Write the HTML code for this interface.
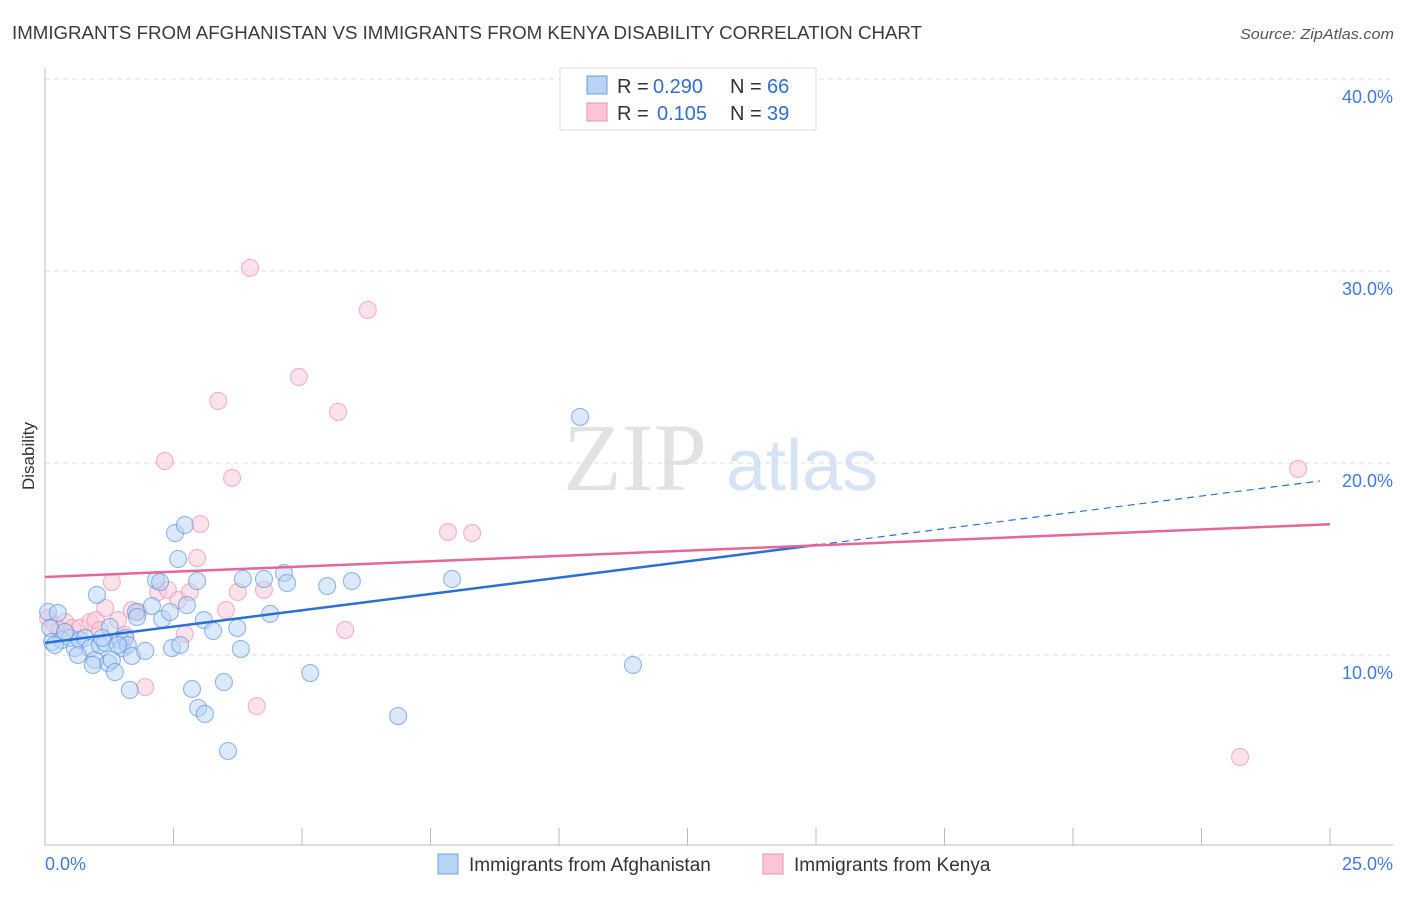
<!DOCTYPE html>
<html><head><meta charset="utf-8"><style>
body{margin:0;background:#fff;font-family:"Liberation Sans",sans-serif}
</style></head><body>
<svg id="c" width="1406" height="892" xmlns="http://www.w3.org/2000/svg" style="font-family:'Liberation Sans',sans-serif">
<text x="12" y="39" font-size="18" fill="#3a3a3a" textLength="910" lengthAdjust="spacingAndGlyphs">IMMIGRANTS FROM AFGHANISTAN VS IMMIGRANTS FROM KENYA DISABILITY CORRELATION CHART</text>
<text x="1394" y="39" font-size="15" fill="#555" text-anchor="end" font-style="italic" textLength="154" lengthAdjust="spacingAndGlyphs">Source: ZipAtlas.com</text>
<text x="34" y="456" font-size="17" fill="#333" text-anchor="middle" transform="rotate(-90 34 456)">Disability</text>
<g><text x="635" y="490" font-size="96" fill="#e2e2e2" font-family="'Liberation Serif',serif" text-anchor="middle">ZIP</text><text x="802" y="490" font-size="72" fill="#d6e3f5" text-anchor="middle">atlas</text></g>
<g id="grid"></g><g id="axes"></g><g id="pts"></g><g id="trend"></g>
<g>
<rect x="560" y="68" width="256" height="62" fill="#fff" stroke="#ddd"/>
<rect x="587" y="76" width="20" height="18" fill="#b9d3f5" stroke="#6a9de0"/>
<rect x="587" y="103" width="20" height="18" fill="#fac6d5" stroke="#ec8fae"/>
<text x="617" y="93" font-size="20" fill="#333">R =</text>
<text x="653" y="93" font-size="20" fill="#2f6fd0">0.290</text>
<text x="730" y="93" font-size="20" fill="#333">N =</text>
<text x="767" y="93" font-size="20" fill="#2f6fd0">66</text>
<text x="617" y="120" font-size="20" fill="#333">R =</text>
<text x="657" y="120" font-size="20" fill="#2f6fd0">0.105</text>
<text x="730" y="120" font-size="20" fill="#333">N =</text>
<text x="767" y="120" font-size="20" fill="#2f6fd0">39</text>
</g>
<g>
<rect x="438" y="854" width="20" height="20" fill="#b9d3f5" stroke="#6a9de0"/>
<text x="469" y="871" font-size="19" fill="#333">Immigrants from Afghanistan</text>
<rect x="763" y="854" width="20" height="20" fill="#fac6d5" stroke="#ec8fae"/>
<text x="794" y="871" font-size="19" fill="#333">Immigrants from Kenya</text>
</g>
</svg>
<script>
const yTicks=[10,20,30,40];
const yTickLabels=["10.0%","20.0%","30.0%","40.0%"];
const xEndLabels=["0.0%","25.0%"];
const blueX=[0.06,0.25,0.10,0.14,0.33,0.49,0.58,0.68,0.78,0.88,1.01,0.97,0.93,1.07,1.17,1.23,1.26,1.30,1.36,1.46,1.50,1.56,1.61,1.65,1.69,1.77,1.79,1.95,2.08,2.16,2.24,2.28,2.43,2.47,2.53,2.59,2.63,2.72,2.76,2.86,2.96,2.98,3.09,3.11,3.27,3.48,3.56,3.74,3.81,3.85,4.26,4.38,4.65,4.71,5.16,5.49,5.97,6.87,7.92,10.41,11.44,0.19,0.39,0.64,1.11,1.42];
const blueY=[12.24,12.19,11.41,10.68,10.78,10.89,10.36,10.78,10.89,10.36,13.13,9.74,9.48,10.52,10.63,9.58,11.46,9.74,9.11,10.78,10.36,10.89,10.52,8.18,9.95,12.24,11.98,10.21,12.55,13.91,13.80,11.88,12.24,10.36,16.35,15.00,10.52,16.77,12.60,8.23,13.85,7.24,11.82,6.93,11.25,8.59,5.00,11.41,10.31,13.96,13.96,12.14,14.27,13.75,9.06,13.59,13.85,6.82,13.96,22.40,9.48,10.52,11.20,10.00,10.89,10.52];
const pinkX=[0.06,0.19,0.29,0.39,0.53,0.68,0.88,0.99,1.17,1.30,1.42,1.56,1.69,1.81,1.95,2.20,2.33,2.39,2.59,2.72,2.82,2.96,3.02,3.37,3.52,3.64,3.75,3.99,4.12,4.26,4.94,5.70,5.84,6.28,7.84,8.31,24.38,23.25,1.07];
const pinkY=[11.93,11.56,11.30,11.72,11.41,11.41,11.72,11.82,12.45,13.80,11.82,11.04,12.34,12.24,8.33,13.28,20.10,13.39,12.86,11.09,13.28,15.05,16.82,23.23,12.34,19.22,13.28,30.16,7.34,13.39,24.48,22.66,11.30,27.97,16.41,16.35,19.69,4.69,11.30];
const blueTrend=[10.63,0.34];
const pinkTrend=[14.06,0.11];
const blueSolidEnd=15.04;
const NS="http://www.w3.org/2000/svg";
const X=v=>45+v/25*1285, Y=v=>847-v*19.2;
function mk(t,a,p){const e=document.createElementNS(NS,t);for(const k in a)e.setAttribute(k,a[k]);p.appendChild(e);return e;}
const grid=document.getElementById('grid'),axes=document.getElementById('axes'),pts=document.getElementById('pts'),tr=document.getElementById('trend');
yTicks.forEach((t,i)=>{
 const l=mk('line',{x1:45,x2:1393,y1:Y(t),y2:Y(t),stroke:'#ddd','stroke-dasharray':'5,4'},grid);
 
 
 const tx=mk('text',{x:1393,y:Y(t)+24,'font-size':18,fill:'#3f7bd8','text-anchor':'end'},grid);
 tx.textContent=yTickLabels[i];
 
 
});
const ya=mk('line',{x1:45,x2:45,y1:68,y2:845,stroke:'#bbb'},axes);


const xa=mk('line',{x1:45,x2:1393,y1:845,y2:845,stroke:'#bbb'},axes);


for(let i=0;i<=10;i++){const v=i*2.5;
 const tk=mk('line',{x1:X(v),x2:X(v),y1:828,y2:845,stroke:'#bbb'},axes);
 
 }
[[0,'start',45],[25,'end',1393]].forEach((a,i)=>{
 const t=mk('text',{x:a[2],y:870,'font-size':18,fill:'#3f7bd8','text-anchor':a[1]},axes);
 t.textContent=xEndLabels[i];
 
 });
function dots(xs,ys,f,s,n){xs.forEach((x,i)=>{
 const c=mk('circle',{cx:X(x),cy:Y(ys[i]),r:8.5,fill:f,'fill-opacity':0.5,stroke:s,'stroke-opacity':0.65,'stroke-width':1.1},pts);
 
 });}
dots(pinkX,pinkY,'#fac6d5','#ec8fae','kenya-point');
dots(blueX,blueY,'#b9d3f5','#5a92dc','afghanistan-point');
const b1=mk('line',{x1:X(0),y1:Y(blueTrend[0]),x2:X(blueSolidEnd),y2:Y(blueTrend[0]+blueTrend[1]*blueSolidEnd),stroke:'#2a6fd6','stroke-width':2.5},tr);


const b2=mk('line',{x1:X(blueSolidEnd),y1:Y(blueTrend[0]+blueTrend[1]*blueSolidEnd),x2:X(24.8),y2:Y(blueTrend[0]+blueTrend[1]*24.8),stroke:'#2a6fd6','stroke-width':1.2,'stroke-dasharray':'7,5'},tr);


const p1=mk('line',{x1:X(0),y1:Y(pinkTrend[0]),x2:X(25),y2:Y(pinkTrend[0]+pinkTrend[1]*25),stroke:'#e4679a','stroke-width':2.5},tr);


</script>
</body></html>
